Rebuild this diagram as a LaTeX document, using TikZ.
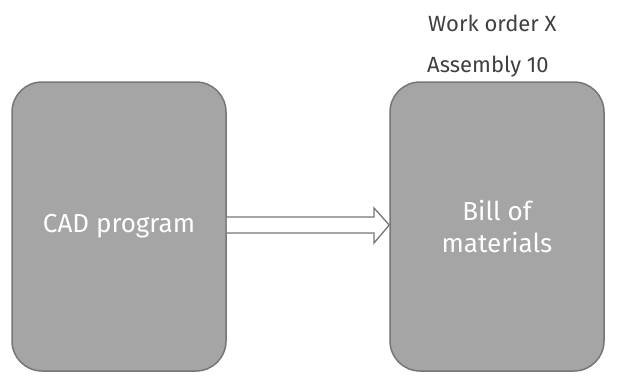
\documentclass[tikz,border=0pt]{standalone}
\usepackage{fontspec}
\setmainfont{Fira Sans}
\definecolor{boxfill}{HTML}{A5A5A5}
\definecolor{boxline}{HTML}{767676}
\definecolor{txt}{HTML}{404040}
\begin{document}
\begin{tikzpicture}[x=1pt,y=-1pt,
  box/.style={draw=boxline,fill=boxfill,line width=1.5pt,rounded corners=30pt,minimum width=214pt,minimum height=289pt,inner sep=0pt,text=white,font=\fontsize{26}{32}\selectfont,align=center},
  lbl/.style={text=txt,font=\fontsize{22}{24}\selectfont,inner sep=0pt,anchor=west}]
\useasboundingbox (0,0) rectangle (617,383);
\node[box] (cad) at (119,226.5) {CAD program};
\node[box] (bom) at (497,226.5) {Bill of\\materials};
\node[lbl] (wo) at (428,23) {Work order X};
\node[lbl] (asm) at (427,67) {Assembly 10};
\draw[boxline,line width=1.3pt,fill=white,line join=miter]
  (cad.east |- 0,217) -- (374,217) -- (374,208) -- (bom.west |- 0,225) -- (374,243) -- (374,233) -- (cad.east |- 0,233);
\end{tikzpicture}
\end{document}
